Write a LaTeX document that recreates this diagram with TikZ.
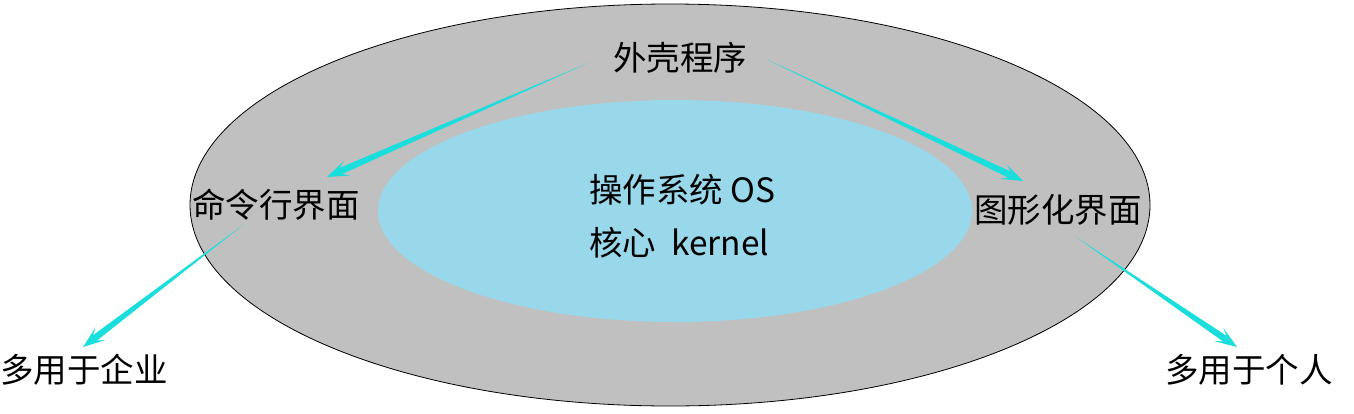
\documentclass[tikz,border=0pt]{standalone}
\usepackage{fontspec}
\setmainfont{Noto Sans CJK SC}
\usetikzlibrary{calc}
\definecolor{outerc}{RGB}{192,192,192}
\definecolor{innerc}{RGB}{153,216,234}
\definecolor{arrowc}{RGB}{26,222,220}
\tikzset{
  lbl/.style={inner sep=0pt, font=\fontsize{33.5}{40}\selectfont},
}
\newcommand\taper[2]{%
  \fill[arrowc] let \p1=($(#1)-(#2)$), \n1={atan2(\y1,\x1)} in
   (#1) -- ($(#2)+(\n1:15pt)+(\n1+90:3.3pt)$) -- ($(#2)+(\n1:22pt)+(\n1+90:8pt)$)
   -- (#2) -- ($(#2)+(\n1:22pt)+(\n1-90:8pt)$) -- ($(#2)+(\n1:15pt)+(\n1-90:3.3pt)$) -- cycle;}
\begin{document}
\begin{tikzpicture}[x=1pt,y=-1pt]
\useasboundingbox (0,0) rectangle (1354,413);
\draw[fill=outerc, line width=0.8pt] (670,205) ellipse [x radius=480pt, y radius=201pt];
\fill[innerc] (675,211) ellipse [x radius=297pt, y radius=111pt];
\node[lbl] (shell) at (680,58) {外壳程序};
\node[lbl] (cli) at (276,205) {命令行界面};
\node[lbl] (gui) at (1058,210) {图形化界面};
\node[lbl] (ent) at (84,370) {多用于企业};
\node[lbl] (per) at (1249,370) {多用于个人};
\node[lbl, anchor=west] (os) at (589,190) {操作系统 OS};
\node[lbl, anchor=west] (kern) at (589,243) {核心\ \ kernel};
\coordinate (s1) at (588,63);  \coordinate (t1) at (327,177);
\coordinate (s2) at (766,59);  \coordinate (t2) at (1023,181);
\coordinate (s3) at (243,225); \coordinate (t3) at (83,347);
\coordinate (s4) at (1076,237); \coordinate (t4) at (1237,347);
\taper{s1}{t1}
\taper{s2}{t2}
\taper{s3}{t3}
\taper{s4}{t4}
\end{tikzpicture}
\end{document}
